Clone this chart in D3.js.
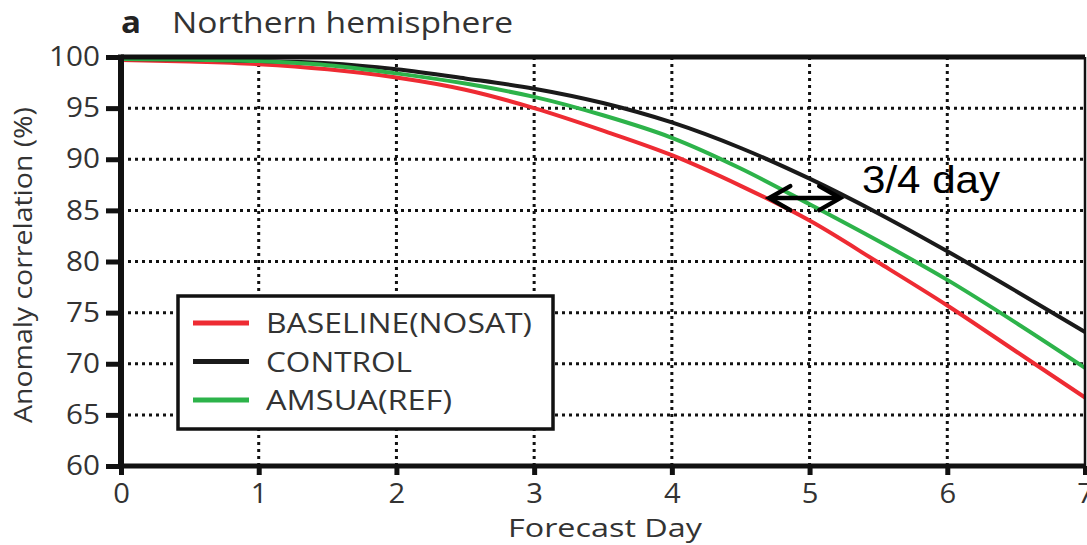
<!DOCTYPE html>
<html><head><meta charset="utf-8">
<script src="https://cdn.jsdelivr.net/npm/d3@7/dist/d3.min.js"></script>
<style>body{margin:0;background:#fff}svg{display:block}</style>
</head><body>
<svg id="c" width="1087" height="545"></svg>
<script>
const days     = [0, 0.5, 1, 1.5, 2, 2.5, 3, 3.5, 4, 4.5, 5, 5.5, 6, 6.5, 7];
const baseline = [99.7, 99.55, 99.3, 98.8, 98.0, 96.8, 95.0, 92.8, 90.4, 87.4, 84.0, 79.9, 75.7, 71.2, 66.7];
const control  = [99.8, 99.75, 99.6, 99.4, 98.8, 97.9, 96.9, 95.5, 93.6, 91.1, 88.1, 84.7, 81.0, 77.1, 73.1];
const amsua    = [99.8, 99.75, 99.6, 99.2, 98.4, 97.4, 96.1, 94.3, 92.1, 89.1, 85.6, 82.0, 78.2, 74.0, 69.6];
const xTicks = [0, 1, 2, 3, 4, 5, 6, 7];
const yTicks = [60, 65, 70, 75, 80, 85, 90, 95, 100];
const seriesNames = ["BASELINE(NOSAT)", "CONTROL", "AMSUA(REF)"];
const seriesColors = ["#ee2b33", "#1a1a1a", "#2db34a"];
const arrowSpan = [4.7, 5.23], arrowLevel = 86.2;

const svg = d3.select("#c");
const font = "'Open Sans', 'DejaVu Sans', sans-serif";
const x = d3.scaleLinear().domain([0, 7]).range([121, 1085]);
const y = d3.scaleLinear().domain([60, 100]).range([466, 57]);

function stretch(sel, f) {
  sel.each(function () {
    const w = this.getComputedTextLength();
    d3.select(this).attr("textLength", w * f).attr("lengthAdjust", "spacingAndGlyphs");
  });
}

// grid
const grid = svg.append("g").attr("stroke", "#111").attr("stroke-width", 3).attr("stroke-dasharray", "3,4");
grid.selectAll(".v").data(xTicks.filter(d => d > 0 && d < 7)).join("line")
  .attr("x1", d => x(d)).attr("x2", d => x(d)).attr("y1", y(100)).attr("y2", y(60));
grid.selectAll(".h").data(yTicks.filter(d => d > 60 && d < 100)).join("line")
  .attr("y1", d => y(d)).attr("y2", d => y(d)).attr("x1", x(0)).attr("x2", x(7));

// lines
const series = [baseline, control, amsua];
const line = d3.line().x((d, i) => x(days[i])).y(d => y(d)).curve(d3.curveMonotoneX);
svg.append("g").selectAll("path").data(series).join("path")
  .attr("d", d => line(d)).attr("fill", "none")
  .attr("stroke", (d, i) => seriesColors[i]).attr("stroke-width", 4);

// frame
svg.append("line").attr("x1", x(0)).attr("x2", x(7)).attr("y1", y(100)).attr("y2", y(100)).attr("stroke", "#111").attr("stroke-width", 5);
svg.append("line").attr("x1", x(7)).attr("x2", x(7)).attr("y1", y(100)).attr("y2", y(60)).attr("stroke", "#111").attr("stroke-width", 2.5);

// axes
const xAxis = d3.axisBottom(x).tickValues(xTicks).tickSize(9).tickPadding(9).tickFormat(d3.format("d"));
const gx = svg.append("g").attr("transform", `translate(0,${y(60)})`).call(xAxis);
gx.select(".domain").attr("stroke", "#111").attr("stroke-width", 5).attr("d", `M${x(0)-3},0H${x(7)+1}`);
gx.selectAll(".tick line").attr("stroke", "#111").attr("stroke-width", 5);
gx.selectAll("text").attr("font-family", font).attr("font-size", 27).attr("fill", "#333");
stretch(gx.selectAll("text"), 1.08);

const yAxis = d3.axisLeft(y).tickValues(yTicks).tickSize(15).tickPadding(6);
const gy = svg.append("g").attr("transform", `translate(${x(0)},0)`).call(yAxis);
gy.select(".domain").attr("stroke", "#111").attr("stroke-width", 6).attr("d", `M0,${y(100)-2.5}V${y(60)+2.5}`);
gy.selectAll(".tick line").attr("stroke", "#111").attr("stroke-width", 5);
gy.selectAll("text").attr("font-family", font).attr("font-size", 27).attr("fill", "#333");
stretch(gy.selectAll("text"), 1.1);

// titles
svg.append("text").attr("x", 508).attr("y", 537)
  .attr("font-family", font).attr("font-size", 26).attr("fill", "#333")
  .attr("textLength", 194).attr("lengthAdjust", "spacingAndGlyphs").text("Forecast Day");
svg.append("text").attr("transform", "translate(32,423) rotate(-90)")
  .attr("font-family", font).attr("font-size", 26).attr("fill", "#333")
  .attr("textLength", 316).attr("lengthAdjust", "spacingAndGlyphs").text("Anomaly correlation (%)");
svg.append("text").attr("x", 121).attr("y", 33).attr("font-family", font).attr("font-size", 31)
  .attr("font-weight", "bold").attr("fill", "#222").attr("textLength", 20).attr("lengthAdjust", "spacingAndGlyphs").text("a");
svg.append("text").attr("x", 172).attr("y", 33).attr("font-family", font).attr("font-size", 29)
  .attr("fill", "#333").attr("textLength", 341).attr("lengthAdjust", "spacingAndGlyphs").text("Northern hemisphere");

// legend
const lg = svg.append("g");
lg.append("rect").attr("x", 178).attr("y", 296).attr("width", 375).attr("height", 133)
  .attr("fill", "#fff").attr("stroke", "#111").attr("stroke-width", 3.5);
const legendWidths = [266, 146, 186];
const rows = lg.selectAll("g.r").data(seriesNames).join("g").attr("transform", (d, i) => `translate(0,${323 + i * 38.5})`);
rows.append("line").attr("x1", 193).attr("x2", 249).attr("stroke", (d, i) => seriesColors[i]).attr("stroke-width", 5);
rows.append("text").attr("x", 266).attr("y", 10).attr("font-family", font)
  .attr("font-size", 27).attr("fill", "#333")
  .attr("textLength", (d, i) => legendWidths[i]).attr("lengthAdjust", "spacingAndGlyphs").text(d => d);

// arrow annotation
const ax1 = x(arrowSpan[0]), ax2 = x(arrowSpan[1]), ay = y(arrowLevel);
const ag = svg.append("g").attr("stroke", "#000").attr("stroke-width", 4.5).attr("fill", "none").attr("stroke-linecap", "round");
ag.append("line").attr("x1", ax1 + 2).attr("x2", ax2 - 2).attr("y1", ay).attr("y2", ay);
ag.append("path").attr("d", `M${ax1 + 22},${ay - 12}L${ax1 + 1},${ay}L${ax1 + 22},${ay + 12}`);
ag.append("path").attr("d", `M${ax2 - 22},${ay - 12}L${ax2 - 1},${ay}L${ax2 - 22},${ay + 12}`);
svg.append("text").attr("x", 862).attr("y", 193).attr("font-family", "'Liberation Sans', Arial, sans-serif")
  .attr("font-size", 38).attr("fill", "#000")
  .attr("textLength", 138).attr("lengthAdjust", "spacingAndGlyphs").text("3/4 day");
</script>
</body></html>
